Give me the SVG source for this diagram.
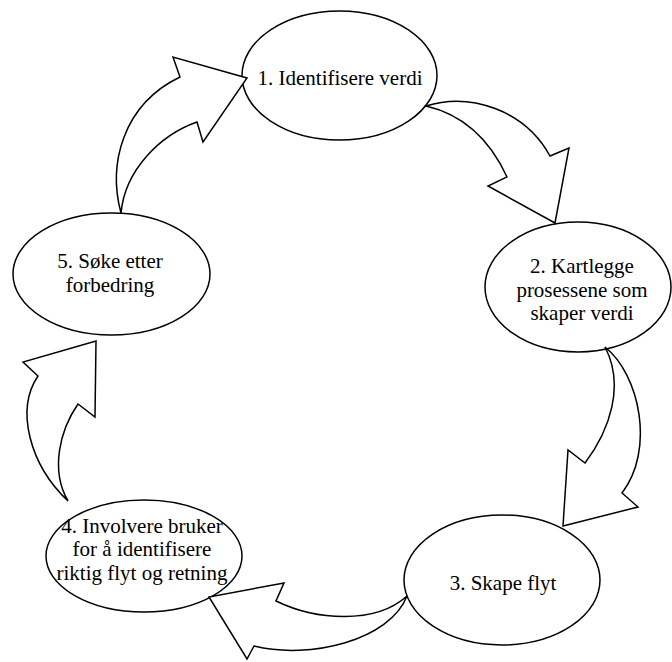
<svg xmlns="http://www.w3.org/2000/svg" width="672" height="662" viewBox="0 0 672 662">
  <style>
    .node ellipse { fill: #ffffff; stroke: #000000; stroke-width: 1.5; }
    .node text { font-family: 'Liberation Serif', 'DejaVu Serif', serif; font-size: 21px; fill: #000000; text-anchor: middle; }
    .arrow { fill: #ffffff; stroke: #000000; stroke-width: 1.5; stroke-linejoin: miter; }
  </style>
  <rect x="0" y="0" width="672" height="662" fill="#ffffff"/>
  <g id="node1" class="node">
    <ellipse cx="339.5" cy="75.5" rx="97.5" ry="64.5"/>
    <text x="340" y="85" font-family="Liberation Serif, serif">1. Identifisere verdi</text>
  </g>
  <g id="node2" class="node">
    <ellipse cx="578" cy="287" rx="93" ry="65"/>
    <text x="582" y="273" font-family="Liberation Serif, serif">2. Kartlegge</text>
    <text x="582" y="297" font-family="Liberation Serif, serif">prosessene som</text>
    <text x="582" y="320" font-family="Liberation Serif, serif">skaper verdi</text>
  </g>
  <g id="node3" class="node">
    <ellipse cx="502" cy="580" rx="98" ry="65"/>
    <text x="503" y="590" font-family="Liberation Serif, serif">3. Skape flyt</text>
  </g>
  <g id="node4" class="node">
    <ellipse cx="144" cy="556" rx="98" ry="56"/>
    <text x="142" y="533" font-family="Liberation Serif, serif">4. Involvere bruker</text>
    <text x="142" y="556" font-family="Liberation Serif, serif">for å identifisere</text>
    <text x="142" y="580" font-family="Liberation Serif, serif">riktig flyt og retning</text>
  </g>
  <g id="node5" class="node">
    <ellipse cx="111.5" cy="274" rx="98.5" ry="61"/>
    <text x="110" y="268" font-family="Liberation Serif, serif">5. Søke etter</text>
    <text x="110" y="292" font-family="Liberation Serif, serif">forbedring</text>
  </g>
  <g id="connectors">
    <path class="arrow" d="M121,213 C108,165 122,105 180,77 L173,57 L247,78 L203,142 L197,122 C160,135 125,170 121,213 Z"/>
    <path class="arrow" d="M426,106 C470,92 525,110 550,156 L569,148 L555,223 L488,186 L507,177 C490,140 465,115 426,106 Z"/>
    <path class="arrow" d="M605,347 C640,375 655,450 622,493 L638,507 L563,526 L568,450 L585,463 C610,430 625,385 605,347 Z"/>
    <path class="arrow" d="M407,596 C390,640 310,660 254,646 L247,659 L209,597 L284,583 L276,601 C315,620 375,625 407,596 Z"/>
    <path class="arrow" d="M68,501 C30,465 15,410 38,376 L23,362 L96,341 L95,417 L78,404 C60,430 50,470 68,501 Z"/>
  </g>
</svg>
